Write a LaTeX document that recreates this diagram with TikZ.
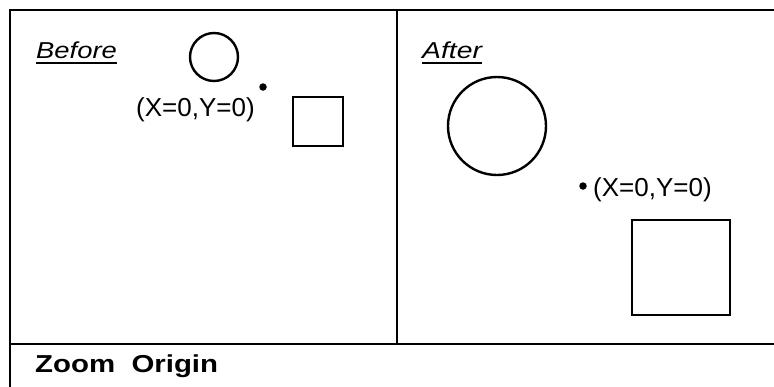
\documentclass[tikz,border=0pt]{standalone}
\usepackage{fontspec}
\usepackage{graphicx}
\setmainfont{Liberation Sans}
\tikzset{
  frame/.style={line width=2.4pt, line cap=rect},
  shapeline/.style={line width=2.4pt},
  lbl/.style={inner sep=0pt, anchor=base west, font=\fontsize{26}{29}\selectfont},
  title/.style={inner sep=0pt, anchor=base west, font=\fontsize{23}{26}\selectfont\itshape},
  uline/.style={line width=2pt},
  dotmark/.style={fill=black, circle, inner sep=0pt, minimum size=7.5pt}
}
\begin{document}
\begin{tikzpicture}[x=1pt,y=-1pt]
\useasboundingbox (0,0) rectangle (774,386);
\fill[white] (0,0) rectangle (774,386);
% frame
\coordinate (tl) at (10,10);
\coordinate (tr) at (780,10);
\coordinate (bl) at (10,392);
\coordinate (ml) at (10,344);
\coordinate (mr) at (780,344);
\coordinate (dt) at (397,10);
\coordinate (db) at (397,344);
\draw[frame] (tr) -- (tl) -- (bl);
\draw[frame] (ml) -- (mr);
\draw[frame] (dt) -- (db);
% Before panel
\node[title] (before) at (36,58) {\scalebox{1.19}[1]{Before}};
\draw[uline] ([yshift=-4.5pt]before.base west) -- ([yshift=-4.5pt]before.base east);
\node[draw, circle, shapeline, minimum size=48pt, inner sep=0pt] (c1) at (214,57) {};
\node[dotmark] (d1) at (263,87) {};
\node[lbl] (t1) at (136,116) {(X=0,Y=0)};
\node[draw, shapeline, minimum width=50pt, minimum height=49pt, inner sep=0pt] (s1) at (318,121.5) {};
% After panel
\node[title] (after) at (422,58) {\scalebox{1.23}[1]{After}};
\draw[uline] ([yshift=-4.5pt]after.base west) -- ([yshift=-4.5pt]after.base east);
\node[draw, circle, shapeline, minimum size=98pt, inner sep=0pt] (c2) at (497,126) {};
\node[dotmark] (d2) at (583,186) {};
\node[lbl] (t2) at (593,196) {(X=0,Y=0)};
\node[draw, shapeline, minimum width=98pt, minimum height=95pt, inner sep=0pt] (s2) at (681,267.5) {};
% bottom caption
\node[inner sep=0pt, anchor=base west, font=\fontsize{24.5}{27}\selectfont\bfseries] (cap) at (35,372) {\scalebox{1.2}[1]{Zoom\ \ Origin}};
\end{tikzpicture}
\end{document}
